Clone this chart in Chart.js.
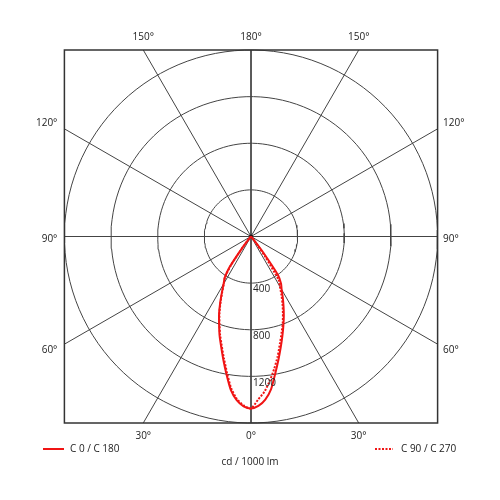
<!DOCTYPE html>
<html><head><meta charset="utf-8">
<script src="https://cdn.jsdelivr.net/npm/chart.js@4/dist/chart.umd.min.js"></script>
<style>html,body{margin:0;padding:0;background:#fff}canvas{display:block}</style>
</head><body>
<canvas id="c" width="500" height="500"></canvas>
<script>
// gamma angles (deg from nadir)
const gammaAngles = [0,2.5,5,7.5,10,12.5,15,17.5,20,22.5,25,27.5,30,32.5,35,37.5,40,42.5,45,50,60,70,80,90];
// C0 (right, solid)
const c0   = [1476,1455,1405,1320,1195,1085,985,895,812,735,660,590,525,480,405,170,40,10,0,0,0,0,0,0];
// C180 (left, solid)
const c180 = [1476,1458,1410,1328,1205,1090,985,895,800,715,625,540,470,420,320,120,30,8,0,0,0,0,0,0];
// C90 (right, dotted)
const c90  = [1476,1400,1335,1245,1150,1055,955,870,795,715,640,565,495,440,210,65,15,5,0,0,0,0,0,0];
// C270 (left, dotted)
const c270 = [1476,1450,1398,1310,1185,1072,970,882,790,706,616,533,465,415,300,110,25,6,0,0,0,0,0,0];

const ringValues = [400,800,1200,1600];
const ringLabels = ['400','800','1200'];
const spokeAngles = [0,30,60,90,120,150];
const topLabels = ['150°','180°','150°'];
const bottomLabels = ['30°','0°','30°'];
const sideLabels = ['120°','90°','60°'];
const seriesNames = ['C 0 / C 180','C 90 / C 270'];
const unitLabel = 'cd / 1000 lm';
const maxValue = 1600;

const RED = '#f01414';
const GRID = '#444';
const TXT = '#222';
const FONT = '10px "Open Sans"';

function polar(deg, v, side){ const r=deg*Math.PI/180; return {x: side*v*Math.sin(r), y: -v*Math.cos(r)}; }
function curve(left,right){
  const pts=[];
  for(let i=gammaAngles.length-1;i>=0;i--) pts.push(polar(gammaAngles[i], left[i], -1));
  for(let i=1;i<gammaAngles.length;i++) pts.push(polar(gammaAngles[i], right[i], 1));
  return pts;
}
function ring(v){ const pts=[]; for(let a=1;a<=362;a+=3){ const r=a*Math.PI/180; pts.push({x:v*Math.sin(r), y:v*Math.cos(r)}); } return pts; }
function spoke(a){
  const r=a*Math.PI/180, s=Math.sin(r), c=-Math.cos(r);
  const t=maxValue/Math.max(Math.abs(s),Math.abs(c));
  return [{x:-t*s,y:-t*c},{x:t*s,y:t*c}];
}

const datasets = [];
datasets.push({data:curve(c180,c0), showLine:true, borderColor:RED, borderWidth:2, pointRadius:0, tension:0.2, clip:false, order:1});
datasets.push({data:curve(c270,c90), showLine:true, borderColor:RED, borderWidth:2, borderDash:[2,1.5], pointRadius:0, tension:0.2, clip:false, order:0});
datasets.push({data:[{x:0,y:0}], showLine:false, pointRadius:2, pointBackgroundColor:'#111', pointBorderWidth:0, clip:false, order:2});
ringValues.forEach(v=>datasets.push({data:ring(v), showLine:true, borderColor:GRID, borderWidth:1, borderJoinStyle:'round', pointRadius:0, tension:0, clip:false, order:10}));
spokeAngles.forEach(a=>datasets.push({data:spoke(a), showLine:true, borderColor:GRID, borderWidth:1, pointRadius:0, clip:false, order:10}));

const deco = {
  id:'deco',
  afterDatasetsDraw(chart){
    const ctx=chart.ctx, xs=chart.scales.x, ys=chart.scales.y, ca=chart.chartArea;
    const cx=xs.getPixelForValue(0), cy=ys.getPixelForValue(0);
    ctx.save();
    ctx.strokeStyle='#333'; ctx.lineWidth=1.5;
    ctx.strokeRect(ca.left, ca.top, ca.right-ca.left, ca.bottom-ca.top);
    ctx.fillStyle=TXT; ctx.font=FONT; ctx.textBaseline='middle';
    const off = maxValue*Math.tan(Math.PI/6);
    ctx.textAlign='center';
    const tx=[-off,0,off];
    topLabels.forEach((l,i)=>ctx.fillText(l, xs.getPixelForValue(tx[i]), ca.top-13));
    bottomLabels.forEach((l,i)=>ctx.fillText(l, xs.getPixelForValue(tx[i]), ca.bottom+13));
    const sy=[ys.getPixelForValue(off)-6, cy+2.5, ys.getPixelForValue(-off)+6];
    sideLabels.forEach((l,i)=>{
      ctx.textAlign='right'; ctx.fillText(l, ca.left-7, sy[i]);
      ctx.textAlign='left'; ctx.fillText(l, ca.right+5.5, sy[i]);
    });
    ctx.textAlign='left';
    ringLabels.forEach((l,i)=>ctx.fillText(l, cx+2, ys.getPixelForValue(-ringValues[i])+6.5));
    const ly=ca.bottom+26;
    ctx.strokeStyle=RED; ctx.lineWidth=2;
    ctx.beginPath(); ctx.moveTo(43,ly); ctx.lineTo(64,ly); ctx.stroke();
    ctx.fillText(seriesNames[0], 70, ly);
    ctx.setLineDash([2,1.5]);
    ctx.beginPath(); ctx.moveTo(375,ly); ctx.lineTo(393,ly); ctx.stroke();
    ctx.setLineDash([]);
    ctx.fillText(seriesNames[1], 401, ly);
    ctx.textAlign='center';
    ctx.fillText(unitLabel, cx-1, ly+13);
    ctx.restore();
  }
};

new Chart(document.getElementById('c'), {
  type:'scatter',
  data:{datasets},
  options:{
    responsive:false, animation:false, devicePixelRatio:1,
    layout:{padding:{left:64.4, right:62.4, top:50, bottom:77}},
    scales:{
      x:{type:'linear', min:-maxValue, max:maxValue, display:false},
      y:{type:'linear', min:-maxValue, max:maxValue, display:false}
    },
    plugins:{legend:{display:false}, tooltip:{enabled:false}}
  },
  plugins:[deco]
});
</script>
</body></html>
